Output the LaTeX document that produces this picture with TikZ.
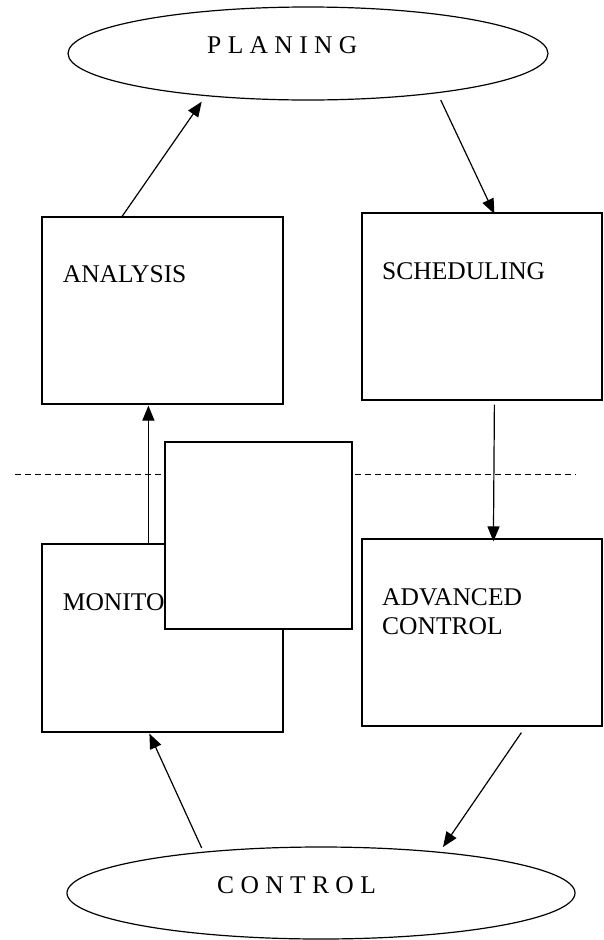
\documentclass[tikz,border=0pt]{standalone}
\usepackage{fontspec}
\setmainfont{Liberation Serif}
\usetikzlibrary{shapes.geometric,arrows.meta,calc}
\begin{document}
\begin{tikzpicture}[x=1pt,y=-1pt,
  box/.style n args={2}{draw, line width=1.2pt, fill=white, inner sep=0pt,
    minimum width=#1, minimum height=#2},
  oval/.style n args={2}{ellipse, draw, line width=1.2pt, fill=white, inner sep=0pt,
    minimum width=#1, minimum height=#2},
  lbl/.style={inner sep=0pt, font=\fontsize{25.5}{29}\selectfont},
  flow/.style={line width=1.2pt, -{Triangle[length=15pt,width=12pt]}},
  divider/.style={line width=0.9pt, dash pattern=on 6pt off 4pt}]
  \useasboundingbox (0,0) rectangle (603,940);
  \fill[white] (0,0) rectangle (603,940);

  % planning / control level separator
  \coordinate (dashL) at (15,474);
  \coordinate (dashR) at (576,474);
  \draw[divider] (dashL) -- (dashR);

  % ellipses
  \node[oval={480pt}{93pt}] (plan) at (308,53.5) {};
  \node[oval={508pt}{92pt}] (ctrl) at (321,893) {};
  \node[lbl, anchor=base west] (plantxt) at (207,53) {P L A N I N G};
  \node[lbl, anchor=base west] (ctrltxt) at (217,893) {C O N T R O L};

  % boxes
  \node[box={241pt}{187pt}] (analysis) at (162.5,310.5) {};
  \node[box={240pt}{187pt}] (sched) at (482,306.5) {};
  \node[box={241pt}{188pt}] (monitor) at (162.5,638) {};
  \node[box={240pt}{187pt}] (adv) at (482,632.5) {};

  \node[lbl, anchor=base west] (analysistxt) at (62.7,282) {ANALYSIS};
  \node[lbl, anchor=base west] (schedtxt) at (382,279) {SCHEDULING};
  \node[lbl, anchor=base west] (monitortxt) at (62.7,610) {MONITO};
  \node[lbl, anchor=north west, align=left] (advtxt) at (382,588) {ADVANCED\\CONTROL};

  % blank box lying over the monitoring box
  \node[box={187pt}{187pt}] (blank) at (258.5,535.5) {};

  % connectors
  \draw[flow] ($(analysis.north west)+(80.7,0)$) -- ($(plan.center)+(-106.3,48.2)$);
  \draw[flow] ($(plan.center)+(132.7,46.5)$) -- ($(sched.north west)+(133,1.5)$);
  \draw[flow] ($(sched.south west)+(133,4)$) -- ($(adv.north west)+(132,3)$);
  \draw[flow] ($(monitor.north west)+(107,0)$) -- ($(analysis.south west)+(107,1)$);
  \draw[flow] ($(adv.south west)+(160,6)$) -- ($(ctrl.center)+(122,-46)$);
  \draw[flow] ($(ctrl.center)+(-119.3,-45)$) -- ($(monitor.south west)+(108,1)$);
\end{tikzpicture}
\end{document}
